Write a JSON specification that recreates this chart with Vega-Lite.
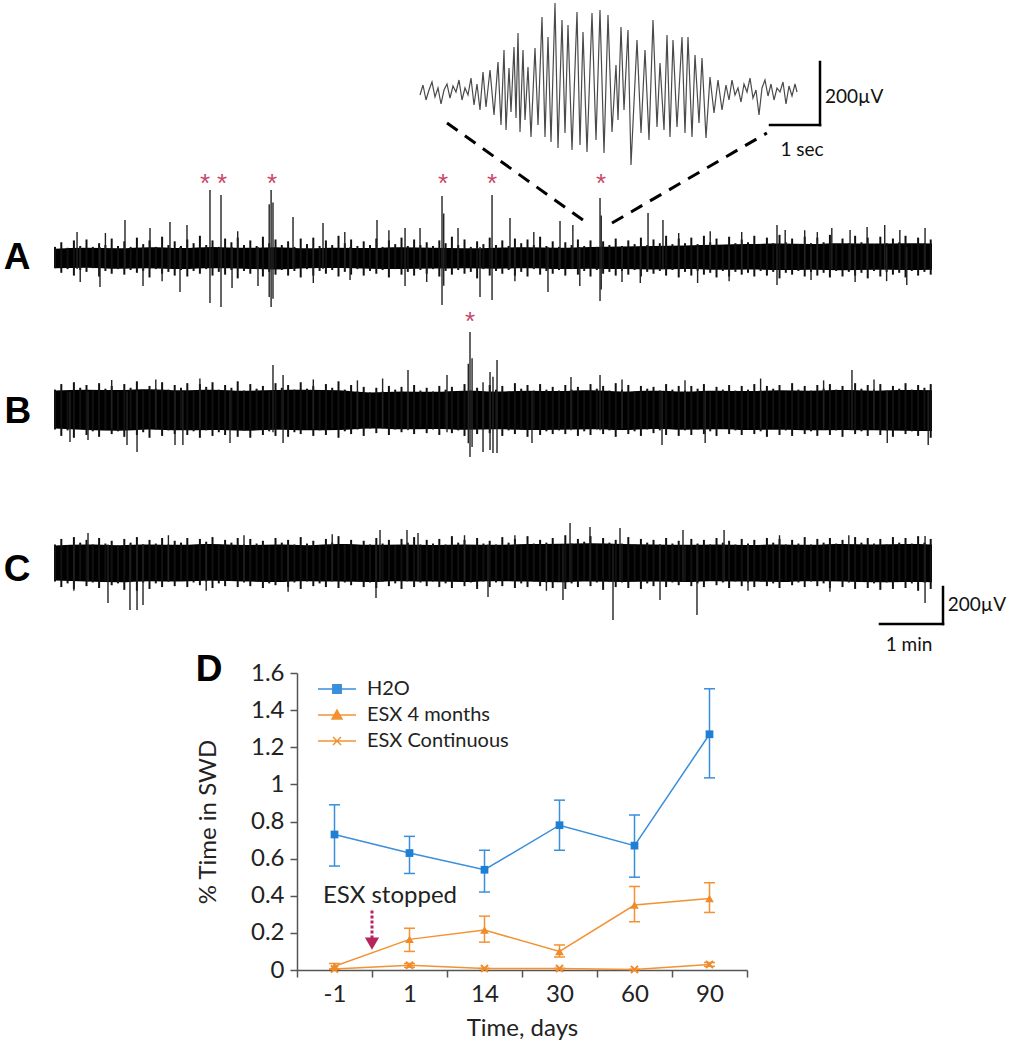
{
"$schema": "https://vega.github.io/schema/vega-lite/v6.json",
"padding": 0,
"background": "white",
"spacing": 0,
"bounds": "flush",
"config": {
  "view": {"stroke": null},
  "font": "Lato",
  "axis": {"domainColor": "#555", "domainWidth": 1.5, "tickColor": "#555", "tickWidth": 1.5, "tickSize": 7, "labelFont": "Lato", "labelFontSize": 24, "labelColor": "#222", "titleFont": "Lato", "titleFontSize": 24, "titleFontWeight": "normal", "titleColor": "#222", "grid": false, "labelFlush": false, "labelOverlap": false}
},
"datasets": {
  "coreA": [
    {"t":0,"hi":50,"lo":-55},{"t":0.5,"hi":55,"lo":-52},{"t":1.0,"hi":52,"lo":-58},{"t":1.5,"hi":58,"lo":-55},{"t":2.0,"hi":54,"lo":-60},{"t":2.5,"hi":60,"lo":-56},{"t":3.0,"hi":55,"lo":-58},{"t":3.5,"hi":58,"lo":-62},{"t":4.0,"hi":52,"lo":-56},{"t":4.5,"hi":56,"lo":-54},
    {"t":5.0,"hi":54,"lo":-58},{"t":5.5,"hi":58,"lo":-60},{"t":6.0,"hi":55,"lo":-57},{"t":6.5,"hi":52,"lo":-55},{"t":7.0,"hi":56,"lo":-58},{"t":7.5,"hi":58,"lo":-56},{"t":8.0,"hi":55,"lo":-60},{"t":8.5,"hi":60,"lo":-58},{"t":9.0,"hi":62,"lo":-60},{"t":9.5,"hi":65,"lo":-62},
    {"t":10.0,"hi":68,"lo":-60},{"t":10.5,"hi":72,"lo":-64},{"t":11.0,"hi":75,"lo":-62},{"t":11.5,"hi":78,"lo":-65},{"t":12.0,"hi":76,"lo":-63},{"t":12.5,"hi":80,"lo":-66},{"t":13.0,"hi":78,"lo":-64},{"t":13.5,"hi":80,"lo":-65},{"t":13.92,"hi":78,"lo":-63}
  ],
  "coreB": [
    {"t":0,"hi":105,"lo":-100},{"t":0.5,"hi":110,"lo":-108},{"t":1.0,"hi":108,"lo":-112},{"t":1.5,"hi":112,"lo":-105},{"t":2.0,"hi":106,"lo":-110},{"t":2.5,"hi":110,"lo":-108},{"t":3.0,"hi":104,"lo":-112},{"t":3.5,"hi":108,"lo":-106},{"t":4.0,"hi":110,"lo":-110},{"t":4.5,"hi":106,"lo":-108},
    {"t":5.0,"hi":95,"lo":-100},{"t":5.5,"hi":100,"lo":-104},{"t":6.0,"hi":98,"lo":-102},{"t":6.5,"hi":104,"lo":-106},{"t":7.0,"hi":100,"lo":-104},{"t":7.5,"hi":104,"lo":-108},{"t":8.0,"hi":102,"lo":-106},{"t":8.5,"hi":106,"lo":-104},{"t":9.0,"hi":100,"lo":-108},{"t":9.5,"hi":104,"lo":-102},
    {"t":10.0,"hi":100,"lo":-106},{"t":10.5,"hi":104,"lo":-104},{"t":11.0,"hi":102,"lo":-108},{"t":11.5,"hi":106,"lo":-106},{"t":12.0,"hi":104,"lo":-110},{"t":12.5,"hi":108,"lo":-108},{"t":13.0,"hi":104,"lo":-110},{"t":13.5,"hi":108,"lo":-112},{"t":13.92,"hi":106,"lo":-114}
  ],
  "coreC": [
    {"t":0,"hi":95,"lo":-95},{"t":0.5,"hi":100,"lo":-100},{"t":1.0,"hi":96,"lo":-104},{"t":1.5,"hi":100,"lo":-98},{"t":2.0,"hi":98,"lo":-100},{"t":2.5,"hi":102,"lo":-96},{"t":3.0,"hi":97,"lo":-100},{"t":3.5,"hi":100,"lo":-102},{"t":4.0,"hi":96,"lo":-98},{"t":4.5,"hi":102,"lo":-100},
    {"t":5.0,"hi":98,"lo":-102},{"t":5.5,"hi":100,"lo":-98},{"t":6.0,"hi":97,"lo":-100},{"t":6.5,"hi":100,"lo":-102},{"t":7.0,"hi":98,"lo":-98},{"t":7.5,"hi":102,"lo":-100},{"t":8.0,"hi":104,"lo":-104},{"t":8.5,"hi":106,"lo":-100},{"t":9.0,"hi":102,"lo":-102},{"t":9.5,"hi":100,"lo":-100},
    {"t":10.0,"hi":98,"lo":-102},{"t":10.5,"hi":100,"lo":-98},{"t":11.0,"hi":97,"lo":-100},{"t":11.5,"hi":100,"lo":-102},{"t":12.0,"hi":98,"lo":-98},{"t":12.5,"hi":102,"lo":-100},{"t":13.0,"hi":100,"lo":-104},{"t":13.5,"hi":102,"lo":-102},{"t":13.92,"hi":100,"lo":-104}
  ],
  "bandA": [
    {"t":0,"hi":60,"lo":-55},{"t":0.1,"hi":85,"lo":-80},{"t":0.2,"hi":55,"lo":-60},{"t":0.3,"hi":95,"lo":-95},{"t":0.4,"hi":65,"lo":-65},{"t":0.5,"hi":100,"lo":-75},{"t":0.6,"hi":60,"lo":-55},{"t":0.7,"hi":80,"lo":-100},{"t":0.8,"hi":70,"lo":-70},{"t":0.9,"hi":105,"lo":-85},
    {"t":1.0,"hi":65,"lo":-60},{"t":1.1,"hi":90,"lo":-90},{"t":1.2,"hi":60,"lo":-65},{"t":1.3,"hi":110,"lo":-80},{"t":1.4,"hi":75,"lo":-70},{"t":1.5,"hi":95,"lo":-105},{"t":1.6,"hi":60,"lo":-60},{"t":1.7,"hi":115,"lo":-85},{"t":1.8,"hi":70,"lo":-75},{"t":1.9,"hi":90,"lo":-95},
    {"t":2.0,"hi":65,"lo":-65},{"t":2.1,"hi":100,"lo":-100},{"t":2.2,"hi":80,"lo":-70},{"t":2.3,"hi":120,"lo":-85},{"t":2.4,"hi":70,"lo":-60},{"t":2.5,"hi":95,"lo":-95},{"t":2.6,"hi":60,"lo":-75},{"t":2.7,"hi":105,"lo":-90},{"t":2.8,"hi":85,"lo":-65},{"t":2.9,"hi":110,"lo":-110},
    {"t":3.0,"hi":70,"lo":-70},{"t":3.1,"hi":95,"lo":-85},{"t":3.2,"hi":65,"lo":-60},{"t":3.3,"hi":115,"lo":-100},{"t":3.4,"hi":80,"lo":-75},{"t":3.5,"hi":100,"lo":-90},{"t":3.6,"hi":70,"lo":-65},{"t":3.7,"hi":90,"lo":-95},{"t":3.8,"hi":60,"lo":-70},{"t":3.9,"hi":105,"lo":-105},
    {"t":4.0,"hi":75,"lo":-60},{"t":4.1,"hi":110,"lo":-95},{"t":4.2,"hi":65,"lo":-70},{"t":4.3,"hi":95,"lo":-85},{"t":4.4,"hi":70,"lo":-65},{"t":4.5,"hi":120,"lo":-100},{"t":4.6,"hi":80,"lo":-75},{"t":4.7,"hi":100,"lo":-90},{"t":4.8,"hi":65,"lo":-60},{"t":4.9,"hi":90,"lo":-95},
    {"t":5.0,"hi":70,"lo":-70},{"t":5.1,"hi":105,"lo":-85},{"t":5.2,"hi":60,"lo":-65},{"t":5.3,"hi":95,"lo":-105},{"t":5.4,"hi":75,"lo":-60},{"t":5.5,"hi":110,"lo":-90},{"t":5.6,"hi":65,"lo":-75},{"t":5.7,"hi":100,"lo":-95},{"t":5.8,"hi":70,"lo":-65},{"t":5.9,"hi":85,"lo":-85},
    {"t":6.0,"hi":65,"lo":-60},{"t":6.1,"hi":95,"lo":-100},{"t":6.2,"hi":80,"lo":-70},{"t":6.3,"hi":115,"lo":-90},{"t":6.4,"hi":70,"lo":-65},{"t":6.5,"hi":100,"lo":-85},{"t":6.6,"hi":60,"lo":-75},{"t":6.7,"hi":90,"lo":-110},{"t":6.8,"hi":75,"lo":-60},{"t":6.9,"hi":110,"lo":-95},
    {"t":7.0,"hi":70,"lo":-70},{"t":7.1,"hi":95,"lo":-85},{"t":7.2,"hi":65,"lo":-65},{"t":7.3,"hi":105,"lo":-95},{"t":7.4,"hi":80,"lo":-75},{"t":7.5,"hi":100,"lo":-100},{"t":7.6,"hi":70,"lo":-60},{"t":7.7,"hi":115,"lo":-90},{"t":7.8,"hi":65,"lo":-70},{"t":7.9,"hi":90,"lo":-85},
    {"t":8.0,"hi":60,"lo":-65},{"t":8.1,"hi":85,"lo":-95},{"t":8.2,"hi":70,"lo":-60},{"t":8.3,"hi":100,"lo":-90},{"t":8.4,"hi":65,"lo":-70},{"t":8.5,"hi":95,"lo":-100},{"t":8.6,"hi":60,"lo":-65},{"t":8.7,"hi":90,"lo":-85},{"t":8.8,"hi":70,"lo":-75},{"t":8.9,"hi":105,"lo":-95},
    {"t":9.0,"hi":65,"lo":-70},{"t":9.1,"hi":95,"lo":-90},{"t":9.2,"hi":75,"lo":-65},{"t":9.3,"hi":110,"lo":-100},{"t":9.4,"hi":70,"lo":-75},{"t":9.5,"hi":100,"lo":-85},{"t":9.6,"hi":80,"lo":-70},{"t":9.7,"hi":120,"lo":-95},{"t":9.8,"hi":75,"lo":-65},{"t":9.9,"hi":105,"lo":-105},
    {"t":10.0,"hi":80,"lo":-75},{"t":10.1,"hi":110,"lo":-95},{"t":10.2,"hi":75,"lo":-70},{"t":10.3,"hi":120,"lo":-90},{"t":10.4,"hi":85,"lo":-80},{"t":10.5,"hi":105,"lo":-105},{"t":10.6,"hi":70,"lo":-70},{"t":10.7,"hi":115,"lo":-100},{"t":10.8,"hi":80,"lo":-75},{"t":10.9,"hi":100,"lo":-90},
    {"t":11.0,"hi":85,"lo":-80},{"t":11.1,"hi":120,"lo":-100},{"t":11.2,"hi":75,"lo":-70},{"t":11.3,"hi":110,"lo":-95},{"t":11.4,"hi":80,"lo":-75},{"t":11.5,"hi":125,"lo":-110},{"t":11.6,"hi":85,"lo":-80},{"t":11.7,"hi":105,"lo":-90},{"t":11.8,"hi":75,"lo":-70},{"t":11.9,"hi":115,"lo":-100},
    {"t":12.0,"hi":80,"lo":-75},{"t":12.1,"hi":110,"lo":-95},{"t":12.2,"hi":85,"lo":-80},{"t":12.3,"hi":125,"lo":-105},{"t":12.4,"hi":75,"lo":-70},{"t":12.5,"hi":105,"lo":-100},{"t":12.6,"hi":80,"lo":-75},{"t":12.7,"hi":120,"lo":-95},{"t":12.8,"hi":85,"lo":-80},{"t":12.9,"hi":110,"lo":-110},
    {"t":13.0,"hi":75,"lo":-70},{"t":13.1,"hi":115,"lo":-100},{"t":13.2,"hi":80,"lo":-75},{"t":13.3,"hi":105,"lo":-90},{"t":13.4,"hi":85,"lo":-80},{"t":13.5,"hi":120,"lo":-105},{"t":13.6,"hi":75,"lo":-70},{"t":13.7,"hi":110,"lo":-95},{"t":13.8,"hi":80,"lo":-75},{"t":13.9,"hi":100,"lo":-90}
  ],
  "spikeA": [
    {"t":2.46,"hi":367,"lo":-243},{"t":2.635,"hi":340,"lo":-265},{"t":3.40,"hi":290,"lo":-210},{"t":3.43,"hi":367,"lo":-265},{"t":3.46,"hi":300,"lo":-220},{"t":6.143,"hi":335,"lo":-254},{"t":6.17,"hi":240,"lo":-150},{"t":6.937,"hi":340,"lo":-227},{"t":8.651,"hi":324,"lo":-232},{"t":8.67,"hi":230,"lo":-170},
    {"t":1.111,"hi":205,"lo":-60},{"t":1.508,"hi":162,"lo":-60},{"t":1.825,"hi":194,"lo":-60},{"t":2.095,"hi":178,"lo":-60},{"t":3.778,"hi":221,"lo":-60},{"t":4.254,"hi":189,"lo":-60},{"t":5.111,"hi":205,"lo":-60},{"t":5.556,"hi":162,"lo":-151},{"t":5.794,"hi":162,"lo":-60},{"t":6.397,"hi":162,"lo":-60},{"t":7.222,"hi":216,"lo":-60},{"t":8.016,"hi":200,"lo":-60},{"t":8.22,"hi":178,"lo":-60},{"t":9.413,"hi":243,"lo":-60},{"t":9.65,"hi":205,"lo":-60},{"t":11.46,"hi":178,"lo":-146},{"t":11.59,"hi":151,"lo":-60},{"t":12.33,"hi":162,"lo":-60},{"t":12.62,"hi":151,"lo":-60},{"t":12.89,"hi":167,"lo":-60},{"t":13.17,"hi":178,"lo":-60},{"t":13.41,"hi":151,"lo":-60},{"t":13.81,"hi":162,"lo":-60},
    {"t":0.35,"hi":140,"lo":-60},{"t":0.8,"hi":135,"lo":-60},{"t":2.9,"hi":145,"lo":-60},{"t":4.6,"hi":140,"lo":-60},{"t":5.3,"hi":150,"lo":-60},{"t":7.6,"hi":140,"lo":-60},{"t":9.9,"hi":135,"lo":-60},{"t":10.4,"hi":145,"lo":-60},{"t":10.9,"hi":140,"lo":-60},{"t":11.9,"hi":150,"lo":-60},{"t":12.1,"hi":140,"lo":-60},
    {"t":0.714,"hi":60,"lo":-157},{"t":1.397,"hi":60,"lo":-151},{"t":1.984,"hi":60,"lo":-184},{"t":2.81,"hi":60,"lo":-162},{"t":3.222,"hi":60,"lo":-151},{"t":4.683,"hi":60,"lo":-119},{"t":6.746,"hi":60,"lo":-211},{"t":7.825,"hi":60,"lo":-184},{"t":8.33,"hi":60,"lo":-151},{"t":9.29,"hi":60,"lo":-135},{"t":12.0,"hi":60,"lo":-119},{"t":13.52,"hi":60,"lo":-146},
    {"t":0.4,"hi":60,"lo":-130},{"t":1.7,"hi":60,"lo":-125},{"t":4.1,"hi":60,"lo":-135},{"t":5.9,"hi":60,"lo":-130},{"t":7.3,"hi":60,"lo":-125},{"t":9.0,"hi":60,"lo":-130},{"t":10.2,"hi":60,"lo":-135},{"t":10.7,"hi":60,"lo":-125},{"t":12.7,"hi":60,"lo":-130},{"t":13.2,"hi":60,"lo":-125}
  ],
  "bandB": [
    {"t":0,"hi":110,"lo":-105},{"t":0.1,"hi":140,"lo":-140},{"t":0.2,"hi":100,"lo":-110},{"t":0.3,"hi":150,"lo":-150},{"t":0.4,"hi":120,"lo":-100},{"t":0.5,"hi":135,"lo":-135},{"t":0.6,"hi":105,"lo":-115},{"t":0.7,"hi":145,"lo":-145},{"t":0.8,"hi":115,"lo":-105},{"t":0.9,"hi":130,"lo":-130},
    {"t":1.0,"hi":100,"lo":-115},{"t":1.1,"hi":140,"lo":-145},{"t":1.2,"hi":120,"lo":-100},{"t":1.3,"hi":155,"lo":-135},{"t":1.4,"hi":105,"lo":-120},{"t":1.5,"hi":130,"lo":-150},{"t":1.6,"hi":115,"lo":-105},{"t":1.7,"hi":150,"lo":-140},{"t":1.8,"hi":110,"lo":-110},{"t":1.9,"hi":135,"lo":-130},
    {"t":2.0,"hi":120,"lo":-100},{"t":2.1,"hi":145,"lo":-135},{"t":2.2,"hi":100,"lo":-115},{"t":2.3,"hi":140,"lo":-150},{"t":2.4,"hi":125,"lo":-110},{"t":2.5,"hi":150,"lo":-140},{"t":2.6,"hi":110,"lo":-120},{"t":2.7,"hi":135,"lo":-135},{"t":2.8,"hi":120,"lo":-105},{"t":2.9,"hi":155,"lo":-145},
    {"t":3.0,"hi":105,"lo":-110},{"t":3.1,"hi":140,"lo":-150},{"t":3.2,"hi":115,"lo":-105},{"t":3.3,"hi":130,"lo":-135},{"t":3.4,"hi":100,"lo":-115},{"t":3.5,"hi":145,"lo":-140},{"t":3.6,"hi":120,"lo":-100},{"t":3.7,"hi":135,"lo":-145},{"t":3.8,"hi":110,"lo":-120},{"t":3.9,"hi":150,"lo":-130},
    {"t":4.0,"hi":115,"lo":-105},{"t":4.1,"hi":130,"lo":-140},{"t":4.2,"hi":105,"lo":-110},{"t":4.3,"hi":140,"lo":-135},{"t":4.4,"hi":120,"lo":-100},{"t":4.5,"hi":155,"lo":-150},{"t":4.6,"hi":110,"lo":-115},{"t":4.7,"hi":135,"lo":-130},{"t":4.8,"hi":100,"lo":-105},{"t":4.9,"hi":125,"lo":-140},
    {"t":5.0,"hi":95,"lo":-100},{"t":5.1,"hi":120,"lo":-125},{"t":5.2,"hi":100,"lo":-95},{"t":5.3,"hi":130,"lo":-135},{"t":5.4,"hi":110,"lo":-105},{"t":5.5,"hi":125,"lo":-120},{"t":5.6,"hi":95,"lo":-100},{"t":5.7,"hi":135,"lo":-130},{"t":5.8,"hi":105,"lo":-95},{"t":5.9,"hi":120,"lo":-125},
    {"t":6.0,"hi":100,"lo":-105},{"t":6.1,"hi":130,"lo":-135},{"t":6.2,"hi":110,"lo":-100},{"t":6.3,"hi":125,"lo":-125},{"t":6.4,"hi":95,"lo":-110},{"t":6.5,"hi":140,"lo":-140},{"t":6.6,"hi":105,"lo":-95},{"t":6.7,"hi":120,"lo":-130},{"t":6.8,"hi":100,"lo":-105},{"t":6.9,"hi":135,"lo":-125},
    {"t":7.0,"hi":110,"lo":-100},{"t":7.1,"hi":130,"lo":-140},{"t":7.2,"hi":100,"lo":-110},{"t":7.3,"hi":145,"lo":-130},{"t":7.4,"hi":115,"lo":-105},{"t":7.5,"hi":135,"lo":-145},{"t":7.6,"hi":105,"lo":-100},{"t":7.7,"hi":140,"lo":-135},{"t":7.8,"hi":110,"lo":-115},{"t":7.9,"hi":125,"lo":-130},
    {"t":8.0,"hi":105,"lo":-110},{"t":8.1,"hi":135,"lo":-130},{"t":8.2,"hi":110,"lo":-100},{"t":8.3,"hi":125,"lo":-140},{"t":8.4,"hi":100,"lo":-115},{"t":8.5,"hi":140,"lo":-135},{"t":8.6,"hi":115,"lo":-105},{"t":8.7,"hi":130,"lo":-130},{"t":8.8,"hi":105,"lo":-110},{"t":8.9,"hi":145,"lo":-145},
    {"t":9.0,"hi":110,"lo":-100},{"t":9.1,"hi":135,"lo":-130},{"t":9.2,"hi":100,"lo":-115},{"t":9.3,"hi":130,"lo":-140},{"t":9.4,"hi":115,"lo":-105},{"t":9.5,"hi":125,"lo":-125},{"t":9.6,"hi":105,"lo":-110},{"t":9.7,"hi":140,"lo":-135},{"t":9.8,"hi":110,"lo":-100},{"t":9.9,"hi":130,"lo":-140},
    {"t":10.0,"hi":105,"lo":-110},{"t":10.1,"hi":130,"lo":-135},{"t":10.2,"hi":115,"lo":-105},{"t":10.3,"hi":140,"lo":-130},{"t":10.4,"hi":100,"lo":-115},{"t":10.5,"hi":125,"lo":-140},{"t":10.6,"hi":110,"lo":-100},{"t":10.7,"hi":135,"lo":-130},{"t":10.8,"hi":105,"lo":-110},{"t":10.9,"hi":130,"lo":-135},
    {"t":11.0,"hi":110,"lo":-105},{"t":11.1,"hi":140,"lo":-130},{"t":11.2,"hi":105,"lo":-115},{"t":11.3,"hi":130,"lo":-145},{"t":11.4,"hi":115,"lo":-100},{"t":11.5,"hi":135,"lo":-135},{"t":11.6,"hi":100,"lo":-110},{"t":11.7,"hi":145,"lo":-140},{"t":11.8,"hi":110,"lo":-105},{"t":11.9,"hi":130,"lo":-130},
    {"t":12.0,"hi":105,"lo":-115},{"t":12.1,"hi":135,"lo":-140},{"t":12.2,"hi":115,"lo":-105},{"t":12.3,"hi":140,"lo":-135},{"t":12.4,"hi":110,"lo":-110},{"t":12.5,"hi":130,"lo":-145},{"t":12.6,"hi":105,"lo":-100},{"t":12.7,"hi":145,"lo":-130},{"t":12.8,"hi":115,"lo":-115},{"t":12.9,"hi":135,"lo":-140},
    {"t":13.0,"hi":110,"lo":-105},{"t":13.1,"hi":140,"lo":-135},{"t":13.2,"hi":105,"lo":-110},{"t":13.3,"hi":130,"lo":-145},{"t":13.4,"hi":115,"lo":-100},{"t":13.5,"hi":145,"lo":-130},{"t":13.6,"hi":110,"lo":-115},{"t":13.7,"hi":135,"lo":-140},{"t":13.8,"hi":120,"lo":-105},{"t":13.9,"hi":140,"lo":-150}
  ],
  "spikeB": [
    {"t":6.587,"hi":421,"lo":-254},{"t":6.56,"hi":250,"lo":-180},{"t":6.62,"hi":280,"lo":-200},{"t":7.016,"hi":270,"lo":-232},{"t":6.905,"hi":205,"lo":-216},{"t":6.794,"hi":150,"lo":-227},{"t":6.952,"hi":180,"lo":-232},
    {"t":6.222,"hi":189,"lo":-120},{"t":5.603,"hi":216,"lo":-110},{"t":3.46,"hi":243,"lo":-120},{"t":3.62,"hi":189,"lo":-178},{"t":12.65,"hi":216,"lo":-110},{"t":8.19,"hi":178,"lo":-110},{"t":8.651,"hi":189,"lo":-110},
    {"t":0.238,"hi":100,"lo":-173},{"t":0.524,"hi":100,"lo":-162},{"t":1.143,"hi":100,"lo":-189},{"t":1.302,"hi":100,"lo":-227},{"t":1.905,"hi":100,"lo":-189},{"t":2.03,"hi":100,"lo":-189},{"t":2.778,"hi":100,"lo":-178},{"t":7.571,"hi":100,"lo":-178},{"t":9.635,"hi":100,"lo":-189},{"t":10.32,"hi":100,"lo":-178},{"t":13.21,"hi":100,"lo":-178},{"t":13.86,"hi":100,"lo":-189},
    {"t":0.9,"hi":162,"lo":-100},{"t":1.6,"hi":165,"lo":-100},{"t":2.3,"hi":170,"lo":-100},{"t":4.1,"hi":165,"lo":-100},{"t":4.8,"hi":160,"lo":-100},{"t":5.2,"hi":170,"lo":-100},{"t":9.0,"hi":165,"lo":-100},{"t":10.0,"hi":160,"lo":-100},{"t":11.2,"hi":170,"lo":-100},{"t":12.2,"hi":160,"lo":-100},{"t":13.0,"hi":165,"lo":-100}
  ],
  "bandC": [
    {"t":0,"hi":100,"lo":-100},{"t":0.1,"hi":130,"lo":-130},{"t":0.2,"hi":95,"lo":-110},{"t":0.3,"hi":140,"lo":-140},{"t":0.4,"hi":110,"lo":-95},{"t":0.5,"hi":125,"lo":-125},{"t":0.6,"hi":100,"lo":-105},{"t":0.7,"hi":135,"lo":-135},{"t":0.8,"hi":105,"lo":-100},{"t":0.9,"hi":120,"lo":-120},
    {"t":1.0,"hi":95,"lo":-110},{"t":1.1,"hi":130,"lo":-145},{"t":1.2,"hi":110,"lo":-100},{"t":1.3,"hi":140,"lo":-150},{"t":1.4,"hi":100,"lo":-105},{"t":1.5,"hi":125,"lo":-140},{"t":1.6,"hi":105,"lo":-110},{"t":1.7,"hi":135,"lo":-130},{"t":1.8,"hi":100,"lo":-100},{"t":1.9,"hi":120,"lo":-125},
    {"t":2.0,"hi":110,"lo":-95},{"t":2.1,"hi":135,"lo":-130},{"t":2.2,"hi":95,"lo":-105},{"t":2.3,"hi":130,"lo":-120},{"t":2.4,"hi":115,"lo":-100},{"t":2.5,"hi":140,"lo":-135},{"t":2.6,"hi":100,"lo":-110},{"t":2.7,"hi":125,"lo":-125},{"t":2.8,"hi":110,"lo":-95},{"t":2.9,"hi":135,"lo":-130},
    {"t":3.0,"hi":100,"lo":-105},{"t":3.1,"hi":130,"lo":-125},{"t":3.2,"hi":105,"lo":-100},{"t":3.3,"hi":120,"lo":-135},{"t":3.4,"hi":95,"lo":-110},{"t":3.5,"hi":135,"lo":-120},{"t":3.6,"hi":110,"lo":-95},{"t":3.7,"hi":125,"lo":-130},{"t":3.8,"hi":100,"lo":-105},{"t":3.9,"hi":140,"lo":-140},
    {"t":4.0,"hi":105,"lo":-100},{"t":4.1,"hi":120,"lo":-125},{"t":4.2,"hi":95,"lo":-110},{"t":4.3,"hi":130,"lo":-130},{"t":4.4,"hi":110,"lo":-95},{"t":4.5,"hi":145,"lo":-135},{"t":4.6,"hi":100,"lo":-105},{"t":4.7,"hi":125,"lo":-120},{"t":4.8,"hi":95,"lo":-100},{"t":4.9,"hi":120,"lo":-130},
    {"t":5.0,"hi":100,"lo":-105},{"t":5.1,"hi":135,"lo":-135},{"t":5.2,"hi":105,"lo":-100},{"t":5.3,"hi":125,"lo":-125},{"t":5.4,"hi":95,"lo":-110},{"t":5.5,"hi":130,"lo":-140},{"t":5.6,"hi":110,"lo":-95},{"t":5.7,"hi":140,"lo":-130},{"t":5.8,"hi":100,"lo":-105},{"t":5.9,"hi":125,"lo":-125},
    {"t":6.0,"hi":105,"lo":-100},{"t":6.1,"hi":130,"lo":-130},{"t":6.2,"hi":100,"lo":-110},{"t":6.3,"hi":145,"lo":-135},{"t":6.4,"hi":110,"lo":-95},{"t":6.5,"hi":125,"lo":-125},{"t":6.6,"hi":95,"lo":-105},{"t":6.7,"hi":135,"lo":-140},{"t":6.8,"hi":105,"lo":-100},{"t":6.9,"hi":120,"lo":-130},
    {"t":7.0,"hi":100,"lo":-105},{"t":7.1,"hi":140,"lo":-125},{"t":7.2,"hi":110,"lo":-95},{"t":7.3,"hi":130,"lo":-135},{"t":7.4,"hi":95,"lo":-110},{"t":7.5,"hi":145,"lo":-130},{"t":7.6,"hi":105,"lo":-100},{"t":7.7,"hi":125,"lo":-125},{"t":7.8,"hi":110,"lo":-105},{"t":7.9,"hi":135,"lo":-135},
    {"t":8.0,"hi":100,"lo":-100},{"t":8.1,"hi":150,"lo":-140},{"t":8.2,"hi":105,"lo":-110},{"t":8.3,"hi":130,"lo":-130},{"t":8.4,"hi":115,"lo":-95},{"t":8.5,"hi":145,"lo":-125},{"t":8.6,"hi":100,"lo":-105},{"t":8.7,"hi":135,"lo":-145},{"t":8.8,"hi":110,"lo":-100},{"t":8.9,"hi":125,"lo":-130},
    {"t":9.0,"hi":105,"lo":-105},{"t":9.1,"hi":140,"lo":-135},{"t":9.2,"hi":100,"lo":-100},{"t":9.3,"hi":130,"lo":-140},{"t":9.4,"hi":110,"lo":-110},{"t":9.5,"hi":125,"lo":-125},{"t":9.6,"hi":100,"lo":-95},{"t":9.7,"hi":135,"lo":-130},{"t":9.8,"hi":105,"lo":-105},{"t":9.9,"hi":120,"lo":-120},
    {"t":10.0,"hi":95,"lo":-100},{"t":10.1,"hi":130,"lo":-125},{"t":10.2,"hi":105,"lo":-110},{"t":10.3,"hi":125,"lo":-130},{"t":10.4,"hi":100,"lo":-95},{"t":10.5,"hi":135,"lo":-120},{"t":10.6,"hi":110,"lo":-105},{"t":10.7,"hi":120,"lo":-135},{"t":10.8,"hi":100,"lo":-100},{"t":10.9,"hi":130,"lo":-125},
    {"t":11.0,"hi":105,"lo":-105},{"t":11.1,"hi":125,"lo":-130},{"t":11.2,"hi":95,"lo":-100},{"t":11.3,"hi":135,"lo":-125},{"t":11.4,"hi":110,"lo":-110},{"t":11.5,"hi":130,"lo":-135},{"t":11.6,"hi":100,"lo":-95},{"t":11.7,"hi":125,"lo":-120},{"t":11.8,"hi":105,"lo":-105},{"t":11.9,"hi":140,"lo":-130},
    {"t":12.0,"hi":100,"lo":-100},{"t":12.1,"hi":130,"lo":-125},{"t":12.2,"hi":110,"lo":-110},{"t":12.3,"hi":135,"lo":-135},{"t":12.4,"hi":105,"lo":-95},{"t":12.5,"hi":125,"lo":-130},{"t":12.6,"hi":100,"lo":-105},{"t":12.7,"hi":140,"lo":-140},{"t":12.8,"hi":110,"lo":-100},{"t":12.9,"hi":135,"lo":-135},
    {"t":13.0,"hi":105,"lo":-110},{"t":13.1,"hi":130,"lo":-145},{"t":13.2,"hi":100,"lo":-105},{"t":13.3,"hi":140,"lo":-140},{"t":13.4,"hi":110,"lo":-100},{"t":13.5,"hi":135,"lo":-135},{"t":13.6,"hi":105,"lo":-110},{"t":13.7,"hi":145,"lo":-150},{"t":13.8,"hi":110,"lo":-105},{"t":13.9,"hi":130,"lo":-140}
  ],
  "spikeC": [
    {"t":0.524,"hi":162,"lo":-100},{"t":5.159,"hi":178,"lo":-100},{"t":5.587,"hi":178,"lo":-100},{"t":5.762,"hi":162,"lo":-100},{"t":8.175,"hi":216,"lo":-100},{"t":8.492,"hi":194,"lo":-100},{"t":8.968,"hi":189,"lo":-100},{"t":9.968,"hi":178,"lo":-100},{"t":10.62,"hi":178,"lo":-100},{"t":13.81,"hi":146,"lo":-216},
    {"t":1.8,"hi":150,"lo":-100},{"t":3.0,"hi":150,"lo":-100},{"t":4.4,"hi":155,"lo":-100},{"t":6.5,"hi":150,"lo":-100},{"t":7.3,"hi":150,"lo":-100},{"t":11.5,"hi":150,"lo":-100},{"t":12.6,"hi":150,"lo":-100},
    {"t":0.841,"hi":100,"lo":-216},{"t":1.19,"hi":100,"lo":-254},{"t":1.302,"hi":100,"lo":-254},{"t":1.397,"hi":100,"lo":-227},{"t":5.095,"hi":100,"lo":-189},{"t":6.873,"hi":100,"lo":-184},{"t":8.063,"hi":100,"lo":-200},{"t":8.857,"hi":100,"lo":-308},{"t":9.603,"hi":100,"lo":-200},{"t":10.19,"hi":100,"lo":-281},
    {"t":0.3,"hi":100,"lo":-150},{"t":2.4,"hi":100,"lo":-150},{"t":3.7,"hi":100,"lo":-155},{"t":7.8,"hi":100,"lo":-150},{"t":11.0,"hi":100,"lo":-150},{"t":12.3,"hi":100,"lo":-155}
  ],
  "inset": [
    {"s":0,"v":-6.4},{"s":0.06,"v":25.4},{"s":0.12,"v":-22.2},{"s":0.18,"v":9.5},{"s":0.24,"v":34.9},{"s":0.30,"v":-12.7},{"s":0.36,"v":15.9},{"s":0.42,"v":-34.9},{"s":0.48,"v":9.5},{"s":0.54,"v":28.6},
    {"s":0.60,"v":-15.9},{"s":0.66,"v":22.2},{"s":0.72,"v":3.2},{"s":0.78,"v":41.3},{"s":0.84,"v":-22.2},{"s":0.90,"v":15.9},{"s":0.96,"v":-6.4},{"s":1.02,"v":47.6},{"s":1.08,"v":-38.1},{"s":1.14,"v":28.6},
    {"s":1.20,"v":-54.0},{"s":1.26,"v":66.7},{"s":1.32,"v":-44.5},{"s":1.40,"v":73.0},{"s":1.48,"v":-69.9},{"s":1.56,"v":98.4},{"s":1.62,"v":-101.6},{"s":1.68,"v":136.5},{"s":1.72,"v":-117.5},{"s":1.78,"v":79.4},
    {"s":1.82,"v":-60.3},{"s":1.88,"v":146.1},{"s":1.92,"v":-79.4},{"s":1.96,"v":190.5},{"s":2.00,"v":-123.8},{"s":2.06,"v":136.5},{"s":2.10,"v":-85.7},{"s":2.16,"v":82.6},{"s":2.22,"v":-139.7},{"s":2.30,"v":142.9},
    {"s":2.36,"v":-101.6},{"s":2.44,"v":241.3},{"s":2.50,"v":-139.7},{"s":2.56,"v":177.8},{"s":2.62,"v":-155.6},{"s":2.70,"v":285.8},{"s":2.76,"v":-174.6},{"s":2.84,"v":231.8},{"s":2.90,"v":-127.0},{"s":2.96,"v":215.9},
    {"s":3.04,"v":-181.0},{"s":3.14,"v":257.2},{"s":3.20,"v":-165.1},{"s":3.26,"v":193.7},{"s":3.34,"v":-187.3},{"s":3.44,"v":254.0},{"s":3.52,"v":-149.2},{"s":3.60,"v":263.5},{"s":3.68,"v":-190.5},{"s":3.76,"v":247.7},
    {"s":3.84,"v":-123.8},{"s":3.92,"v":88.9},{"s":3.96,"v":-85.7},{"s":4.02,"v":209.6},{"s":4.08,"v":-54.0},{"s":4.16,"v":200.0},{"s":4.22,"v":-228.6},{"s":4.34,"v":168.3},{"s":4.42,"v":-127.0},{"s":4.50,"v":136.5},
    {"s":4.58,"v":-149.2},{"s":4.66,"v":231.8},{"s":4.74,"v":-108.0},{"s":4.80,"v":95.3},{"s":4.88,"v":-117.5},{"s":4.94,"v":184.2},{"s":5.00,"v":-139.7},{"s":5.06,"v":168.3},{"s":5.14,"v":-108.0},{"s":5.24,"v":177.8},
    {"s":5.30,"v":-127.0},{"s":5.36,"v":177.8},{"s":5.44,"v":-139.7},{"s":5.50,"v":120.7},{"s":5.58,"v":-95.3},{"s":5.64,"v":111.1},{"s":5.72,"v":-142.9},{"s":5.80,"v":50.8},{"s":5.88,"v":-63.5},{"s":5.96,"v":41.3},
    {"s":6.04,"v":-54.0},{"s":6.12,"v":25.4},{"s":6.18,"v":-22.2},{"s":6.24,"v":41.3},{"s":6.30,"v":-6.4},{"s":6.36,"v":15.9},{"s":6.42,"v":-28.6},{"s":6.48,"v":28.6},{"s":6.54,"v":3.2},{"s":6.60,"v":47.6},
    {"s":6.66,"v":-15.9},{"s":6.72,"v":9.5},{"s":6.78,"v":-69.9},{"s":6.84,"v":15.9},{"s":6.90,"v":41.3},{"s":6.96,"v":-9.5},{"s":7.02,"v":28.6},{"s":7.08,"v":-22.2},{"s":7.14,"v":15.9},{"s":7.20,"v":3.2},
    {"s":7.26,"v":34.9},{"s":7.32,"v":-34.9},{"s":7.38,"v":22.2},{"s":7.44,"v":-9.5},{"s":7.50,"v":28.6},{"s":7.54,"v":3.2}
  ],
  "swd": [
    {"series":"H2O","day":"-1","slot":0,"mean":0.73,"lo":0.56,"hi":0.89},
    {"series":"H2O","day":"1","slot":1,"mean":0.63,"lo":0.52,"hi":0.72},
    {"series":"H2O","day":"14","slot":2,"mean":0.54,"lo":0.42,"hi":0.645},
    {"series":"H2O","day":"30","slot":3,"mean":0.78,"lo":0.645,"hi":0.915},
    {"series":"H2O","day":"60","slot":4,"mean":0.67,"lo":0.5,"hi":0.835},
    {"series":"H2O","day":"90","slot":5,"mean":1.27,"lo":1.035,"hi":1.515},
    {"series":"ESX 4 months","day":"-1","slot":0,"mean":0.02,"lo":0.005,"hi":0.035},
    {"series":"ESX 4 months","day":"1","slot":1,"mean":0.165,"lo":0.1,"hi":0.225},
    {"series":"ESX 4 months","day":"14","slot":2,"mean":0.215,"lo":0.15,"hi":0.29},
    {"series":"ESX 4 months","day":"30","slot":3,"mean":0.1,"lo":0.07,"hi":0.135},
    {"series":"ESX 4 months","day":"60","slot":4,"mean":0.35,"lo":0.26,"hi":0.45},
    {"series":"ESX 4 months","day":"90","slot":5,"mean":0.385,"lo":0.31,"hi":0.47},
    {"series":"ESX Continuous","day":"-1","slot":0,"mean":0.005,"lo":0.005,"hi":0.005},
    {"series":"ESX Continuous","day":"1","slot":1,"mean":0.025,"lo":0.015,"hi":0.035},
    {"series":"ESX Continuous","day":"14","slot":2,"mean":0.008,"lo":0.008,"hi":0.008},
    {"series":"ESX Continuous","day":"30","slot":3,"mean":0.008,"lo":0.008,"hi":0.008},
    {"series":"ESX Continuous","day":"60","slot":4,"mean":0.003,"lo":0.003,"hi":0.003},
    {"series":"ESX Continuous","day":"90","slot":5,"mean":0.03,"lo":0.02,"hi":0.04}
  ]
},
"vconcat": [
  {
    "width": 1021,
    "height": 673,
    "resolve": {"scale": {"x": "independent", "y": "independent"}},
    "layer": [
      {
        "layer": [
          {"data": {"name": "coreA"}, "mark": {"type": "area", "color": "#000", "interpolate": "monotone"},
           "encoding": {"x": {"field": "t", "type": "quantitative", "scale": {"domain": [-0.873, 15.333], "nice": false, "zero": false}, "axis": null},
                        "y": {"field": "hi", "type": "quantitative", "scale": {"domain": [-2241, 1393.2], "nice": false, "zero": false}, "axis": null},
                        "y2": {"field": "lo"}}},
          {"data": {"name": "bandA"}, "mark": {"type": "rule", "color": "#111", "strokeWidth": 2},
           "encoding": {"x": {"field": "t", "type": "quantitative", "scale": {"domain": [-0.873, 15.333], "nice": false, "zero": false}, "axis": null},
                        "y": {"field": "hi", "type": "quantitative", "scale": {"domain": [-2241, 1393.2], "nice": false, "zero": false}, "axis": null},
                        "y2": {"field": "lo"}}},
          {"data": {"name": "spikeA"}, "mark": {"type": "rule", "color": "#222", "strokeWidth": 1.4},
           "encoding": {"x": {"field": "t", "type": "quantitative", "scale": {"domain": [-0.873, 15.333], "nice": false, "zero": false}, "axis": null},
                        "y": {"field": "hi", "type": "quantitative", "scale": {"domain": [-2241, 1393.2], "nice": false, "zero": false}, "axis": null},
                        "y2": {"field": "lo"}}},
          {"data": {"values": [{"label": "A", "t": -0.6, "v": 0}]},
           "mark": {"type": "text", "font": "Liberation Sans", "fontWeight": "bold", "fontSize": 37, "align": "center", "baseline": "middle", "color": "#000"},
           "encoding": {"x": {"field": "t", "type": "quantitative", "scale": {"domain": [-0.873, 15.333], "nice": false, "zero": false}, "axis": null},
                        "y": {"field": "v", "type": "quantitative", "scale": {"domain": [-2241, 1393.2], "nice": false, "zero": false}, "axis": null},
                        "text": {"field": "label"}}},
          {"data": {"values": [{"label": "*", "t": 2.381, "v": 356}, {"label": "*", "t": 2.651, "v": 356}, {"label": "*", "t": 3.444, "v": 356}, {"label": "*", "t": 6.159, "v": 356}, {"label": "*", "t": 6.937, "v": 356}, {"label": "*", "t": 8.667, "v": 356}]},
           "mark": {"type": "text", "font": "Liberation Sans", "fontSize": 26, "align": "center", "baseline": "alphabetic", "color": "#c9466c"},
           "encoding": {"x": {"field": "t", "type": "quantitative", "scale": {"domain": [-0.873, 15.333], "nice": false, "zero": false}, "axis": null},
                        "y": {"field": "v", "type": "quantitative", "scale": {"domain": [-2241, 1393.2], "nice": false, "zero": false}, "axis": null},
                        "text": {"field": "label"}}},
          {"data": {"values": [{"t": 6.222, "v": 729, "t2": 8.492, "v2": 178}, {"t": 8.841, "v": 189, "t2": 11.30, "v2": 675}]},
           "mark": {"type": "rule", "color": "#000", "strokeWidth": 3, "strokeDash": [13, 9]},
           "encoding": {"x": {"field": "t", "type": "quantitative", "scale": {"domain": [-0.873, 15.333], "nice": false, "zero": false}, "axis": null},
                        "x2": {"field": "t2"},
                        "y": {"field": "v", "type": "quantitative", "scale": {"domain": [-2241, 1393.2], "nice": false, "zero": false}, "axis": null},
                        "y2": {"field": "v2"}}}
        ]
      },
      {
        "layer": [
          {"data": {"name": "coreB"}, "mark": {"type": "area", "color": "#000", "interpolate": "monotone"},
           "encoding": {"x": {"field": "t", "type": "quantitative", "scale": {"domain": [-0.873, 15.333], "nice": false, "zero": false}, "axis": null},
                        "y": {"field": "hi", "type": "quantitative", "scale": {"domain": [-1420.2, 2214], "nice": false, "zero": false}, "axis": null},
                        "y2": {"field": "lo"}}},
          {"data": {"name": "bandB"}, "mark": {"type": "rule", "color": "#111", "strokeWidth": 2},
           "encoding": {"x": {"field": "t", "type": "quantitative", "scale": {"domain": [-0.873, 15.333], "nice": false, "zero": false}, "axis": null},
                        "y": {"field": "hi", "type": "quantitative", "scale": {"domain": [-1420.2, 2214], "nice": false, "zero": false}, "axis": null},
                        "y2": {"field": "lo"}}},
          {"data": {"name": "spikeB"}, "mark": {"type": "rule", "color": "#222", "strokeWidth": 1.4},
           "encoding": {"x": {"field": "t", "type": "quantitative", "scale": {"domain": [-0.873, 15.333], "nice": false, "zero": false}, "axis": null},
                        "y": {"field": "hi", "type": "quantitative", "scale": {"domain": [-1420.2, 2214], "nice": false, "zero": false}, "axis": null},
                        "y2": {"field": "lo"}}},
          {"data": {"values": [{"label": "B", "t": -0.59, "v": -11}]},
           "mark": {"type": "text", "font": "Liberation Sans", "fontWeight": "bold", "fontSize": 37, "align": "center", "baseline": "middle", "color": "#000"},
           "encoding": {"x": {"field": "t", "type": "quantitative", "scale": {"domain": [-0.873, 15.333], "nice": false, "zero": false}, "axis": null},
                        "y": {"field": "v", "type": "quantitative", "scale": {"domain": [-1420.2, 2214], "nice": false, "zero": false}, "axis": null},
                        "text": {"field": "label"}}},
          {"data": {"values": [{"label": "*", "t": 6.587, "v": 432}]},
           "mark": {"type": "text", "font": "Liberation Sans", "fontSize": 26, "align": "center", "baseline": "alphabetic", "color": "#c9466c"},
           "encoding": {"x": {"field": "t", "type": "quantitative", "scale": {"domain": [-0.873, 15.333], "nice": false, "zero": false}, "axis": null},
                        "y": {"field": "v", "type": "quantitative", "scale": {"domain": [-1420.2, 2214], "nice": false, "zero": false}, "axis": null},
                        "text": {"field": "label"}}}
        ]
      },
      {
        "layer": [
          {"data": {"name": "coreC"}, "mark": {"type": "area", "color": "#000", "interpolate": "monotone"},
           "encoding": {"x": {"field": "t", "type": "quantitative", "scale": {"domain": [-0.873, 15.333], "nice": false, "zero": false}, "axis": null},
                        "y": {"field": "hi", "type": "quantitative", "scale": {"domain": [-594, 3040.2], "nice": false, "zero": false}, "axis": null},
                        "y2": {"field": "lo"}}},
          {"data": {"name": "bandC"}, "mark": {"type": "rule", "color": "#111", "strokeWidth": 2},
           "encoding": {"x": {"field": "t", "type": "quantitative", "scale": {"domain": [-0.873, 15.333], "nice": false, "zero": false}, "axis": null},
                        "y": {"field": "hi", "type": "quantitative", "scale": {"domain": [-594, 3040.2], "nice": false, "zero": false}, "axis": null},
                        "y2": {"field": "lo"}}},
          {"data": {"name": "spikeC"}, "mark": {"type": "rule", "color": "#222", "strokeWidth": 1.4},
           "encoding": {"x": {"field": "t", "type": "quantitative", "scale": {"domain": [-0.873, 15.333], "nice": false, "zero": false}, "axis": null},
                        "y": {"field": "hi", "type": "quantitative", "scale": {"domain": [-594, 3040.2], "nice": false, "zero": false}, "axis": null},
                        "y2": {"field": "lo"}}},
          {"data": {"values": [{"label": "C", "t": -0.6, "v": -38}]},
           "mark": {"type": "text", "font": "Liberation Sans", "fontWeight": "bold", "fontSize": 37, "align": "center", "baseline": "middle", "color": "#000"},
           "encoding": {"x": {"field": "t", "type": "quantitative", "scale": {"domain": [-0.873, 15.333], "nice": false, "zero": false}, "axis": null},
                        "y": {"field": "v", "type": "quantitative", "scale": {"domain": [-594, 3040.2], "nice": false, "zero": false}, "axis": null},
                        "text": {"field": "label"}}},
          {"data": {"values": [{"t": 14.095, "t2": 14.095, "v": -129.6, "v2": -329.4}, {"t": 13.095, "t2": 14.095, "v": -329.4, "v2": -329.4}]},
           "mark": {"type": "rule", "color": "#000", "strokeWidth": 2.5, "strokeCap": "square"},
           "encoding": {"x": {"field": "t", "type": "quantitative", "scale": {"domain": [-0.873, 15.333], "nice": false, "zero": false}, "axis": null},
                        "x2": {"field": "t2"},
                        "y": {"field": "v", "type": "quantitative", "scale": {"domain": [-594, 3040.2], "nice": false, "zero": false}, "axis": null},
                        "y2": {"field": "v2"}}},
          {"data": {"values": [{"label": "200µV", "t": 14.17, "v": -226.8}]},
           "mark": {"type": "text", "font": "Lato", "fontSize": 19, "align": "left", "baseline": "middle", "color": "#111"},
           "encoding": {"x": {"field": "t", "type": "quantitative", "scale": {"domain": [-0.873, 15.333], "nice": false, "zero": false}, "axis": null},
                        "y": {"field": "v", "type": "quantitative", "scale": {"domain": [-594, 3040.2], "nice": false, "zero": false}, "axis": null},
                        "text": {"field": "label"}}},
          {"data": {"values": [{"label": "1 min", "t": 13.556, "v": -442.8}]},
           "mark": {"type": "text", "font": "Lato", "fontSize": 19, "align": "center", "baseline": "middle", "color": "#111"},
           "encoding": {"x": {"field": "t", "type": "quantitative", "scale": {"domain": [-0.873, 15.333], "nice": false, "zero": false}, "axis": null},
                        "y": {"field": "v", "type": "quantitative", "scale": {"domain": [-594, 3040.2], "nice": false, "zero": false}, "axis": null},
                        "text": {"field": "label"}}}
        ]
      },
      {
        "layer": [
          {"data": {"name": "inset"}, "mark": {"type": "line", "color": "#4a4a4a", "strokeWidth": 1.2},
           "encoding": {"x": {"field": "s", "type": "quantitative", "scale": {"domain": [-8.4, 12.02], "nice": false, "zero": false}, "axis": null},
                        "y": {"field": "v", "type": "quantitative", "scale": {"domain": [-1841.5, 295.3], "nice": false, "zero": false}, "axis": null}}},
          {"data": {"values": [{"s": 8.0, "s2": 8.0, "v": 98.4, "v2": -101.6}, {"s": 7.0, "s2": 8.0, "v": -101.6, "v2": -101.6}]},
           "mark": {"type": "rule", "color": "#000", "strokeWidth": 2.5, "strokeCap": "square"},
           "encoding": {"x": {"field": "s", "type": "quantitative", "scale": {"domain": [-8.4, 12.02], "nice": false, "zero": false}, "axis": null},
                        "x2": {"field": "s2"},
                        "y": {"field": "v", "type": "quantitative", "scale": {"domain": [-1841.5, 295.3], "nice": false, "zero": false}, "axis": null},
                        "y2": {"field": "v2"}}},
          {"data": {"values": [{"label": "200µV", "s": 8.1, "v": -12.7}]},
           "mark": {"type": "text", "font": "Lato", "fontSize": 19, "align": "left", "baseline": "middle", "color": "#111"},
           "encoding": {"x": {"field": "s", "type": "quantitative", "scale": {"domain": [-8.4, 12.02], "nice": false, "zero": false}, "axis": null},
                        "y": {"field": "v", "type": "quantitative", "scale": {"domain": [-1841.5, 295.3], "nice": false, "zero": false}, "axis": null},
                        "text": {"field": "label"}}},
          {"data": {"values": [{"label": "1 sec", "s": 7.64, "v": -181}]},
           "mark": {"type": "text", "font": "Lato", "fontSize": 19, "align": "center", "baseline": "middle", "color": "#111"},
           "encoding": {"x": {"field": "s", "type": "quantitative", "scale": {"domain": [-8.4, 12.02], "nice": false, "zero": false}, "axis": null},
                        "y": {"field": "v", "type": "quantitative", "scale": {"domain": [-1841.5, 295.3], "nice": false, "zero": false}, "axis": null},
                        "text": {"field": "label"}}}
        ]
      }
    ]
  },
  {
    "spacing": 0,
    "bounds": "flush",
    "hconcat": [
      {"width": 297, "height": 297, "data": {"values": [{"k": 1}]}, "mark": {"type": "point", "opacity": 0}},
      {
        "width": 450,
        "height": 297,
        "data": {"name": "swd"},
        "layer": [
          {"mark": {"type": "line", "strokeWidth": 1.5},
           "encoding": {
             "x": {"field": "slot", "type": "quantitative", "title": "Time, days", "scale": {"domain": [-0.5, 5.5], "nice": false, "zero": false},
                   "axis": {"values": [-0.5, 0, 0.5, 1, 1.5, 2, 2.5, 3, 3.5, 4, 4.5, 5, 5.5], "tickCount": 30, "labelExpr": "datum.value % 1 == 0 ? ['-1','1','14','30','60','90'][datum.value] : ''", "tickOpacity": {"condition": {"test": "datum.value % 1 != 0", "value": 1}, "value": 0}, "labelPadding": 5, "titlePadding": 10, "labelOverlap": false}},
             "y": {"field": "mean", "type": "quantitative", "title": "% Time in SWD", "scale": {"domain": [0, 1.6], "nice": false, "zero": false},
                   "axis": {"values": [0, 0.2, 0.4, 0.6, 0.8, 1, 1.2, 1.4, 1.6], "tickCount": 30, "labelExpr": "datum.value == 0 ? '0' : datum.value == 1 ? '1' : format(datum.value, '.1f')", "labelPadding": 6, "titlePadding": 30, "labelOverlap": false}},
             "color": {"field": "series", "type": "nominal", "scale": {"domain": ["H2O", "ESX 4 months", "ESX Continuous"], "range": ["#3a8edb", "#f39233", "#f39233"]},
                       "legend": {"orient": "none", "legendX": 326, "legendY": 678, "title": null, "padding": 0, "symbolSize": 400, "labelOffset": 19, "rowPadding": 5, "labelFont": "Lato", "labelFontSize": 20, "labelColor": "#222", "symbolStrokeWidth": 1.5,
                                  "encode": {"symbols": {"update": {
                                     "shape": {"signal": "datum.value == 'H2O' ? 'M-1.9,0H1.9M-0.42,-0.42H0.42V0.42H-0.42Z' : datum.value == 'ESX 4 months' ? 'M-1.9,0H1.9M0,-0.5L0.5,0.4H-0.5Z' : 'M-1.9,0H1.9M-0.4,-0.4L0.4,0.4M-0.4,0.4L0.4,-0.4'"},
                                     "fill": {"signal": "datum.value == 'H2O' ? '#1f7fd4' : datum.value == 'ESX 4 months' ? '#f08a2a' : 'transparent'"},
                                     "stroke": {"signal": "datum.value == 'H2O' ? '#3a8edb' : '#f39233'"},
                                     "strokeWidth": {"value": 1.5},
                                     "opacity": {"value": 1}}}}}}
           }},
          {"mark": {"type": "rule", "strokeWidth": 1.5},
           "encoding": {"x": {"field": "slot", "type": "quantitative", "title": "Time, days"}, "y": {"field": "lo", "type": "quantitative", "title": "% Time in SWD"}, "y2": {"field": "hi"}, "color": {"field": "series", "type": "nominal"}}},
          {"mark": {"type": "tick", "orient": "horizontal", "size": 11, "thickness": 1.5, "opacity": 1},
           "encoding": {"x": {"field": "slot", "type": "quantitative", "title": "Time, days"}, "y": {"field": "lo", "type": "quantitative", "title": "% Time in SWD"}, "color": {"field": "series", "type": "nominal"}}},
          {"mark": {"type": "tick", "orient": "horizontal", "size": 11, "thickness": 1.5, "opacity": 1},
           "encoding": {"x": {"field": "slot", "type": "quantitative", "title": "Time, days"}, "y": {"field": "hi", "type": "quantitative", "title": "% Time in SWD"}, "color": {"field": "series", "type": "nominal"}}},
          {"transform": [{"filter": "datum.series == 'H2O'"}],
           "mark": {"type": "point", "shape": "square", "filled": true, "size": 60, "opacity": 1, "color": "#1f7fd4"},
           "encoding": {"x": {"field": "slot", "type": "quantitative", "title": "Time, days"}, "y": {"field": "mean", "type": "quantitative", "title": "% Time in SWD"}}},
          {"transform": [{"filter": "datum.series == 'ESX 4 months'"}],
           "mark": {"type": "point", "shape": "triangle-up", "filled": true, "size": 75, "opacity": 1, "color": "#f08a2a"},
           "encoding": {"x": {"field": "slot", "type": "quantitative", "title": "Time, days"}, "y": {"field": "mean", "type": "quantitative", "title": "% Time in SWD"}}},
          {"transform": [{"filter": "datum.series == 'ESX Continuous'"}],
           "mark": {"type": "point", "shape": "M-1,-1L1,1M-1,1L1,-1", "filled": false, "size": 50, "strokeWidth": 2, "opacity": 1, "color": "#f08a2a"},
           "encoding": {"x": {"field": "slot", "type": "quantitative", "title": "Time, days"}, "y": {"field": "mean", "type": "quantitative", "title": "% Time in SWD"}}},
          {"data": {"values": [{"label": "ESX stopped", "slot": 0.74, "v": 0.40}]},
           "mark": {"type": "text", "font": "Lato", "fontSize": 24, "align": "center", "baseline": "middle", "color": "#222"},
           "encoding": {"x": {"field": "slot", "type": "quantitative", "title": "Time, days"}, "y": {"field": "v", "type": "quantitative", "title": "% Time in SWD"}, "text": {"field": "label"}}},
          {"data": {"values": [{"slot": 0.5, "v": 0.32, "v2": 0.17}]},
           "mark": {"type": "rule", "color": "#b8245c", "strokeWidth": 3, "strokeDash": [3, 2]},
           "encoding": {"x": {"field": "slot", "type": "quantitative", "title": "Time, days"}, "y": {"field": "v", "type": "quantitative", "title": "% Time in SWD"}, "y2": {"field": "v2"}}},
          {"data": {"values": [{"slot": 0.5, "v": 0.142}]},
           "mark": {"type": "point", "shape": "triangle-down", "filled": true, "size": 200, "opacity": 1, "color": "#b8245c"},
           "encoding": {"x": {"field": "slot", "type": "quantitative", "title": "Time, days"}, "y": {"field": "v", "type": "quantitative", "title": "% Time in SWD"}}},
          {"data": {"values": [{"label": "D", "slot": -1.673, "v": 1.616}]},
           "mark": {"type": "text", "font": "Liberation Sans", "fontWeight": "bold", "fontSize": 37, "align": "center", "baseline": "middle", "color": "#000"},
           "encoding": {"x": {"field": "slot", "type": "quantitative", "title": "Time, days"}, "y": {"field": "v", "type": "quantitative", "title": "% Time in SWD"}, "text": {"field": "label"}}}
        ]
      }
    ]
  }
]
}
